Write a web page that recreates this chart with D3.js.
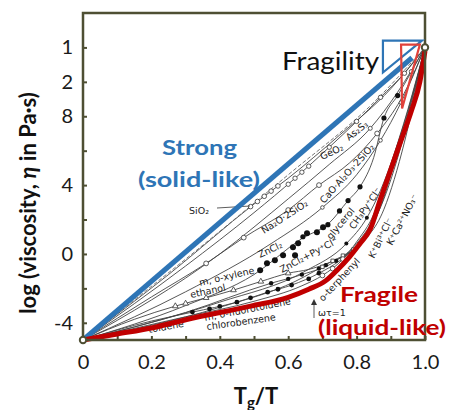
<!DOCTYPE html>
<html>
<head>
<meta charset="utf-8">
<script src="https://cdn.jsdelivr.net/npm/d3@7"></script>
<style>
  body { margin: 0; background: #fff; }
  svg { display: block; }
</style>
</head>
<body>
<div id="chart"></div>
<script>
// axis ticks
const xTickVals = [0, 0.1, 0.2, 0.3, 0.4, 0.5, 0.6, 0.7, 0.8, 0.9, 1.0];
const xLabelVals = [0, 0.2, 0.4, 0.6, 0.8, 1.0];
const xLabelText = ["0", "0.2", "0.4", "0.6", "0.8", "1.0"];
const yTickVals = [-4, -2, 0, 2, 4, 6, 8, 10, 12];
const yLabelVals = [12, 10, 8, 4, 0, -4];
const yLabelText = ["1", "2", "8", "4", "0", "-4"];

// the two limiting behaviours
const strongX = [0, 0.962];
const strongY = [-5, 11.4];
const fragileX = [0, 0.1, 0.2, 0.3, 0.49, 0.6, 0.66, 0.71, 0.745, 0.78, 0.81, 0.84, 0.87, 0.9, 0.93, 0.96, 0.985, 1];
const fragileY = [-5, -4.65, -4.3, -3.82, -3.03, -2.52, -2.05, -1.55, -0.9, -0.15, 0.6, 1.45, 3.2, 4.9, 6.6, 8.3, 10.0, 11.8];

// measured liquids (Tg/T, log viscosity)
const sio2 = [[0,-5],[0.25,-1.2],[0.5,2.9],[0.6,4.4],[0.75,6.9],[0.9,9.6],[1,12]];
const sio2Pts = [[0.49,2.75],[0.51,3.05],[0.53,3.35],[0.55,3.65],[0.57,3.95]];
const dashed1 = [[0,-5],[0.3,-0.3],[0.6,4.6],[0.85,8.8],[1,12]];
const geo2 = [[0,-5],[0.3,-0.7],[0.5,2.4],[0.62,4.4],[0.72,6.2],[0.8,7.7],[0.87,9.1],[0.94,10.5],[1,12]];
const geo2Pts = [[0.6,4.05],[0.62,4.4],[0.64,4.75],[0.66,5.1],[0.72,6.2],[0.8,7.7],[0.87,9.1],[0.94,10.5]];
const as2s3 = [[0,-5],[0.4,0.0],[0.6,3.2],[0.72,5.2],[0.84,7.3],[0.92,9.4],[1,12]];
const as2s3Pts = [[0.84,7.3],[0.96,10.6]];
const na2o = [[0,-5],[0.2,-2.5],[0.36,-0.55],[0.47,0.95],[0.6,2.55],[0.69,4.0],[0.78,5.3],[0.86,7.0],[0.93,9.0],[1,12]];
const na2oPts = [[0.36,-0.55],[0.47,0.95],[0.6,2.55],[0.69,4.0],[0.86,7.0]];
const caoal = [[0,-5],[0.3,-2.2],[0.55,0.6],[0.7,2.7],[0.8,4.6],[0.87,6.6],[0.93,8.8],[1,12]];
const caoalPts = [[0.7,2.7],[0.87,6.6],[0.93,8.8]];
const glycerol = [[0,-5],[0.3,-3.0],[0.5,-1.2],[0.64,0.9],[0.72,1.8],[0.775,3.1],[0.81,3.9],[0.85,5.6],[0.88,7.9],[0.92,9.2],[1,12]];
const glycerolPts = [[0.643,1.0],[0.716,1.7],[0.75,2.5],[0.775,3.1],[0.81,3.9],[0.88,7.9],[0.92,9.2]];
const zncl2Pts = [[0.518,-0.94],[0.538,-0.54],[0.561,-0.36],[0.585,-0.07],[0.62,-0.07],[0.614,0.39],[0.629,0.62],[0.655,1.2],[0.684,1.26],[0.702,1.55]];
const znpy = [[0,-5],[0.3,-3.4],[0.55,-1.7],[0.64,-1.2],[0.74,-0.4],[0.8,0.6],[0.86,2.5],[0.91,5.5],[0.96,8.8],[1,12]];
const znpyPts = [[0.55,-1.7],[0.6,-1.45],[0.64,-1.2],[0.69,-0.85],[0.71,-0.65],[0.74,-0.4]];
const ch3py = [[0,-5],[0.4,-2.8],[0.65,-1.0],[0.77,0.6],[0.83,2.1],[0.87,3.7],[0.91,5.8],[0.96,9.0],[1,12]];
const ch3pyPts = [[0.77,0.6],[0.83,2.1]];
const kbi = [[0,-5],[0.4,-3.1],[0.62,-1.6],[0.73,-0.4],[0.79,0.25],[0.84,1.4],[0.88,3.3],[0.92,6.0],[0.96,8.9],[1,12]];
const kbiPts = [[0.7,-0.75],[0.73,-0.4],[0.76,-0.1],[0.79,0.25]];
const xylene = [[0,-5],[0.15,-3.8],[0.27,-3.03],[0.36,-2.55],[0.44,-2.1],[0.52,-1.6],[0.6,-1.12],[0.66,-0.9],[0.72,-0.5],[0.8,0.4],[0.88,2.6],[0.94,6.5],[1,12]];
const xylenePts = [[0.27,-3.03],[0.3,-2.88],[0.36,-2.55],[0.44,-2.1],[0.52,-1.6],[0.6,-1.12]];
const toluene = [[0,-5],[0.2,-3.9],[0.32,-3.38],[0.45,-2.8],[0.54,-2.22],[0.61,-1.81],[0.69,-1.12],[0.75,-0.4],[0.82,0.9],[0.88,3.2],[0.94,7.0],[1,12]];
const toluenePts = [[0.32,-3.38],[0.37,-3.2],[0.4,-3.05],[0.45,-2.8],[0.49,-2.55],[0.54,-2.22],[0.57,-2.05],[0.61,-1.81],[0.66,-1.45],[0.69,-1.12]];
const terphenyl = [[0,-5],[0.3,-3.65],[0.5,-2.75],[0.64,-1.85],[0.7,-1.25],[0.76,-0.3],[0.8,0.7],[0.85,2.3],[0.9,5.2],[0.95,8.4],[1,12]];
const terphenylPts = [[0.7,-1.25],[0.73,-0.85],[0.76,-0.3]];

const dim = {width: 449, height: 410};

let svg = d3.select('#chart').append('svg')
    .attr('width', dim.width)
    .attr('height', dim.height);

let x = d3.scaleLinear().domain([0, 1]).range([83, 425]);
let y = d3.scaleLinear().domain([-5, 14]).range([340, 13]);

const frameColor = '#4e4f33';

// axes
let axisX = d3.axisBottom(x)
    .tickValues(xTickVals)
    .tickSize(-4)
    .tickPadding(15)
    .tickFormat(d => {
        let i = xLabelVals.findIndex(v => Math.abs(v - d) < 1e-9);
        return i < 0 ? '' : xLabelText[i];
    });
let axisY = d3.axisLeft(y)
    .tickValues(yTickVals)
    .tickSize(-4)
    .tickPadding(10)
    .tickFormat(d => {
        let i = yLabelVals.indexOf(d);
        return i < 0 ? '' : yLabelText[i];
    });

let gx = svg.append('g')
    .attr('transform', `translate(0,${y(-5)})`)
    .call(axisX);
let gy = svg.append('g')
    .attr('transform', `translate(${x(0)},0)`)
    .call(axisY);

[gx, gy].forEach(g => {
    g.select('.domain').remove();
    g.selectAll('.tick line').attr('stroke', frameColor).attr('stroke-width', 2);
    g.selectAll('.tick text')
        .attr('font-family', 'Lato, "Open Sans", sans-serif')
        .attr('font-size', 20)
        .attr('fill', '#1a1a1a');
});

// thin curves from the original figure
let line = d3.line()
    .x(d => x(d[0]))
    .y(d => y(d[1]))
    .curve(d3.curveMonotoneX);

const thin = [sio2, geo2, as2s3, na2o, caoal, glycerol, znpy, ch3py, kbi, xylene, toluene, terphenyl];
svg.append('g').selectAll('path')
    .data(thin)
    .enter()
    .append('path')
    .attr('d', line)
    .attr('fill', 'none')
    .attr('stroke', '#444')
    .attr('stroke-width', 0.9);

svg.append('path')
    .attr('d', line(dashed1))
    .attr('fill', 'none')
    .attr('stroke', '#666')
    .attr('stroke-width', 0.9)
    .attr('stroke-dasharray', '4,2');

function openDots(data, r) {
    svg.append('g').selectAll('circle')
        .data(data).enter().append('circle')
        .attr('cx', d => x(d[0])).attr('cy', d => y(d[1]))
        .attr('r', r)
        .attr('fill', '#fff').attr('stroke', '#333').attr('stroke-width', 0.8);
}
function filledDots(data, r) {
    svg.append('g').selectAll('circle')
        .data(data).enter().append('circle')
        .attr('cx', d => x(d[0])).attr('cy', d => y(d[1]))
        .attr('r', r)
        .attr('fill', '#111');
}
function openTris(data) {
    svg.append('g').selectAll('path')
        .data(data).enter().append('path')
        .attr('d', d3.symbol().type(d3.symbolTriangle).size(14))
        .attr('transform', d => `translate(${x(d[0])},${y(d[1])})`)
        .attr('fill', '#fff').attr('stroke', '#333').attr('stroke-width', 0.8);
}
function openSquares(data) {
    svg.append('g').selectAll('path')
        .data(data).enter().append('path')
        .attr('d', d3.symbol().type(d3.symbolSquare).size(12))
        .attr('transform', d => `translate(${x(d[0])},${y(d[1])})`)
        .attr('fill', '#fff').attr('stroke', '#333').attr('stroke-width', 0.8);
}

openDots(sio2Pts, 2.3);
openDots(geo2Pts, 2.2);
openDots(as2s3Pts, 2);
openDots(na2oPts, 2.4);
openDots(caoalPts, 1.8);
filledDots(glycerolPts, 2.6);
filledDots(zncl2Pts, 3);
filledDots(znpyPts, 2.2);
filledDots(ch3pyPts, 2);
openSquares(kbiPts);
openTris(xylenePts);
filledDots(toluenePts, 2.4);
openDots(terphenylPts, 2.4);

// small curve labels
const small = [
    {t: 'SiO₂', x: 189, y: 214, r: 0},
    {t: 'GeO₂', x: 322, y: 160, r: -25},
    {t: 'As₂S₃', x: 349, y: 141, r: -38},
    {t: 'Na₂O·2SiO₂', x: 264, y: 234, r: -33},
    {t: 'CaO·Al₂O₃·2SiO₂', x: 324, y: 204, r: -48},
    {t: 'ZnCl₂', x: 260, y: 258, r: -25},
    {t: 'glycerol', x: 331, y: 240, r: -50},
    {t: 'ZnCl₂+Py⁺Cl⁻', x: 282, y: 273, r: -28},
    {t: 'CH₃Py⁺Cl⁻', x: 354, y: 230, r: -55},
    {t: 'K⁺Bi³⁺Cl⁻', x: 374, y: 259, r: -64},
    {t: 'K⁺Ca²⁺NO₃⁻', x: 392, y: 246, r: -62},
    {t: 'o-terphenyl', x: 323, y: 302, r: -47},
    {t: 'm, o-xylene', x: 200, y: 286, r: -13},
    {t: 'ethanol', x: 191, y: 298, r: -12},
    {t: 'm, o-fluorotoluene', x: 205, y: 321, r: -11},
    {t: 'chlorobenzene', x: 207, y: 330, r: -8},
    {t: 'toluene', x: 149, y: 333, r: -10},
    {t: 'ωτ=1', x: 318, y: 316, r: 0}
];
svg.append('g').selectAll('text')
    .data(small).enter().append('text')
    .attr('transform', d => `translate(${d.x},${d.y}) rotate(${d.r})`)
    .attr('font-family', '"DejaVu Sans", sans-serif')
    .attr('font-size', 9.5)
    .attr('fill', '#222')
    .text(d => d.t);

// leader for SiO2 and the ωτ=1 arrow
svg.append('line').attr('x1', 217).attr('y1', 208).attr('x2', 250).attr('y2', 206)
    .attr('stroke', '#333').attr('stroke-width', 0.8);
svg.append('line').attr('x1', 314).attr('y1', 318).attr('x2', 314).attr('y2', 302)
    .attr('stroke', '#333').attr('stroke-width', 0.8);
svg.append('path').attr('d', 'M311,305L314,299L317,305Z').attr('fill', '#333');

// strong and fragile bounds
svg.append('path')
    .attr('d', line(strongX.map((v, i) => [v, strongY[i]])))
    .attr('fill', 'none')
    .attr('stroke', '#2e75b6')
    .attr('stroke-width', 5);

svg.append('path')
    .attr('d', line(fragileX.map((v, i) => [v, fragileY[i]])))
    .attr('fill', 'none')
    .attr('stroke', '#c00000')
    .attr('stroke-width', 5)
    .attr('stroke-linejoin', 'round');

// frame
svg.append('rect')
    .attr('x', x(0)).attr('y', y(14))
    .attr('width', x(1) - x(0)).attr('height', y(-5) - y(14))
    .attr('fill', 'none')
    .attr('stroke', frameColor)
    .attr('stroke-width', 2.5);

// end points
const ends = [[0, -5], [1, 12]];
svg.append('g').selectAll('circle')
    .data(ends).enter().append('circle')
    .attr('cx', d => x(d[0])).attr('cy', d => y(d[1]))
    .attr('r', 3.2)
    .attr('fill', '#fff')
    .attr('stroke', frameColor)
    .attr('stroke-width', 2);

// fragility triangles
const blueTri = [[0.877, 12.39], [0.991, 12.39], [0.877, 10.54]];
const redTri = [[0.930, 12.16], [0.985, 12.16], [0.933, 8.45]];
svg.append('path')
    .attr('d', 'M' + blueTri.map(d => [x(d[0]), y(d[1])]).join('L') + 'Z')
    .attr('fill', 'none').attr('stroke', '#2e75b6').attr('stroke-width', 2.2);
svg.append('path')
    .attr('d', 'M' + redTri.map(d => [x(d[0]), y(d[1])]).join('L') + 'Z')
    .attr('fill', 'none').attr('stroke', '#e0413a').attr('stroke-width', 2.2);

// annotations
const font = 'Lato, "Open Sans", sans-serif';
function note(txt, px, py, size, bold, color, len) {
    svg.append('text').attr('x', px).attr('y', py)
        .attr('font-family', font).attr('font-size', size)
        .attr('font-weight', bold ? 'bold' : 'normal')
        .attr('fill', color)
        .attr('textLength', len)
        .attr('lengthAdjust', 'spacingAndGlyphs')
        .text(txt);
}
note('Fragility', 282, 70, 25, false, '#111', 97);
note('Strong', 162, 155, 21, true, '#2e75b6', 75);
note('(solid-like)', 138, 187, 21, true, '#2e75b6', 122);
note('Fragile', 340, 302, 21, true, '#c00000', 78);
note('(liquid-like)', 318, 335, 21, true, '#c00000', 128);

// axis titles
let yt = svg.append('text')
    .attr('transform', 'translate(36,203) rotate(-90)')
    .attr('text-anchor', 'middle')
    .attr('font-family', font).attr('font-size', 22).attr('font-weight', 'bold')
    .attr('fill', '#111');
yt.append('tspan').text('log (viscosity, ');
yt.append('tspan').attr('font-style', 'italic').text('η');
yt.append('tspan').text(' in Pa·s)');

let xt = svg.append('text')
    .attr('x', 256).attr('y', 404)
    .attr('text-anchor', 'middle')
    .attr('font-family', font).attr('font-size', 22).attr('font-weight', 'bold')
    .attr('fill', '#111');
xt.append('tspan').text('T');
xt.append('tspan').attr('font-size', 15).attr('dy', 4).text('g');
xt.append('tspan').attr('dy', -4).text('/T');
</script>
</body>
</html>
